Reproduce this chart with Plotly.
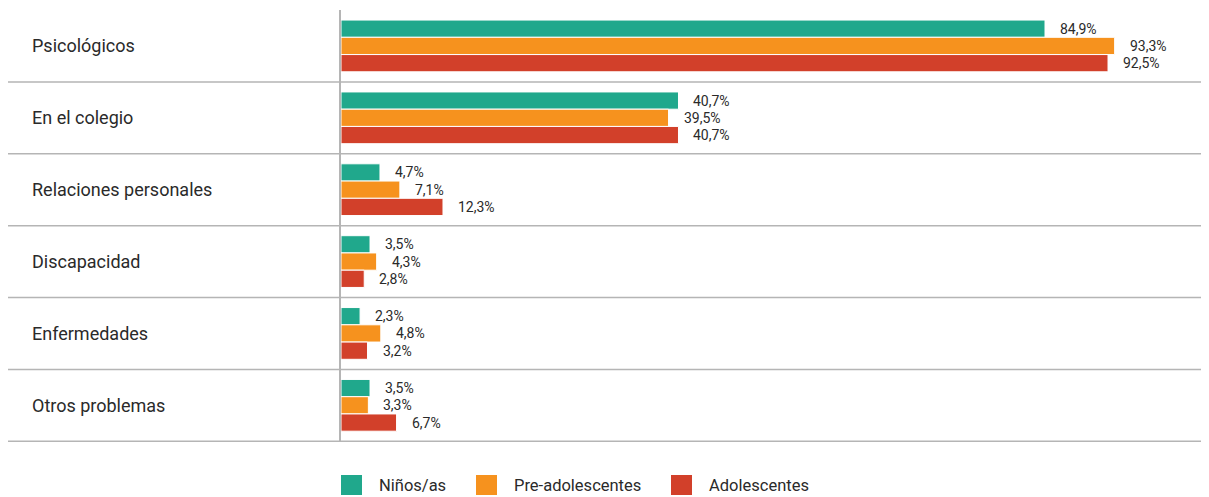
import plotly.graph_objects as go

categories = ["Psicológicos", "En el colegio", "Relaciones personales",
              "Discapacidad", "Enfermedades", "Otros problemas"]
series_names = ["Niños/as", "Pre-adolescentes", "Adolescentes"]
ninos = [84.9, 40.7, 4.7, 3.5, 2.3, 3.5]
pre_adol = [93.3, 39.5, 7.1, 4.3, 4.8, 3.3]
adol = [92.5, 40.7, 12.3, 2.8, 3.2, 6.7]
colors = ["#20a88c", "#f6921e", "#d2402a"]

series_values = [ninos, pre_adol, adol]

# page body adds an 8px margin; compensate
OFF = 8
W, H = 1209 - OFF, 497 - OFF
L, T = 341 - OFF, 10 - OFF
R = 0
B = H - (442 - OFF)
plot_w = W - L - R
plot_h = H - T - B

fig = go.Figure()
for name, vals, col in zip(series_names, series_values, colors):
    fig.add_trace(go.Bar(
        y=categories, x=vals, name=name, orientation="h",
        marker=dict(color=col, line=dict(color="white", width=1)),
        showlegend=False, hoverinfo="x+name",
    ))

TEXT = "#2a2a2a"
FONT = "Roboto"
n_series = len(series_values)
band = plot_h / len(categories)
slot = band * 0.72 / n_series
annotations = []
for si, vals in enumerate(series_values):
    shift = (1 - si) * slot
    for cat, v in zip(categories, vals):
        annotations.append(dict(
            x=v, y=cat, xref="x", yref="y", xanchor="left", yanchor="middle",
            xshift=13, yshift=shift, showarrow=False,
            text=f"{v:.1f}%".replace(".", ","),
            font=dict(family=FONT, size=14, color=TEXT),
        ))

# category labels (left aligned)
for cat in categories:
    annotations.append(dict(
        x=(30 - OFF - L) / plot_w, y=cat, xref="paper", yref="y",
        xanchor="left", yanchor="middle", showarrow=False, text=cat,
        font=dict(family=FONT, size=18, color=TEXT),
    ))

shapes = []
GRAY = "#b5b5b5"
x_left = (8 - OFF - L) / plot_w
x_right = 1 + 12 / plot_w
for i in range(len(categories)):
    shapes.append(dict(
        type="line", xref="paper", yref="y", x0=x_left, x1=x_right,
        y0=i + 0.5, y1=i + 0.5, line=dict(color=GRAY, width=1.5),
    ))

# manual legend
leg_center = -((485 - OFF) - (T + plot_h)) / plot_h
sq = 20
leg_x = [341, 476, 671]
for name, col, px in zip(series_names, colors, leg_x):
    px -= OFF
    shapes.append(dict(
        type="rect", xref="paper", yref="paper",
        x0=(px - L) / plot_w, x1=(px + 21 - L) / plot_w,
        y0=leg_center - (sq / 2) / plot_h, y1=leg_center + (sq / 2) / plot_h,
        fillcolor=col, line=dict(width=0),
    ))
    annotations.append(dict(
        x=(px + 36 - L) / plot_w, y=leg_center, xref="paper", yref="paper",
        xanchor="left", yanchor="middle", showarrow=False, text=name,
        font=dict(family=FONT, size=16.5, color=TEXT),
    ))

x_max = plot_w / (1045 - 341) * 84.9

fig.update_layout(
    width=W, height=H,
    margin=dict(l=L, r=R, t=T, b=B, pad=0),
    paper_bgcolor="white", plot_bgcolor="white",
    barmode="group", bargap=0.28, bargroupgap=0,
    xaxis=dict(range=[0, x_max], showgrid=False, zeroline=False,
               showticklabels=False, showline=False, ticks=""),
    yaxis=dict(autorange="reversed", showgrid=False, zeroline=False,
               showticklabels=False, ticks="", showline=True,
               linecolor=GRAY, linewidth=1.5),
    annotations=annotations, shapes=shapes,
    font=dict(family=FONT, color=TEXT),
)

fig.write_html("out.html")
